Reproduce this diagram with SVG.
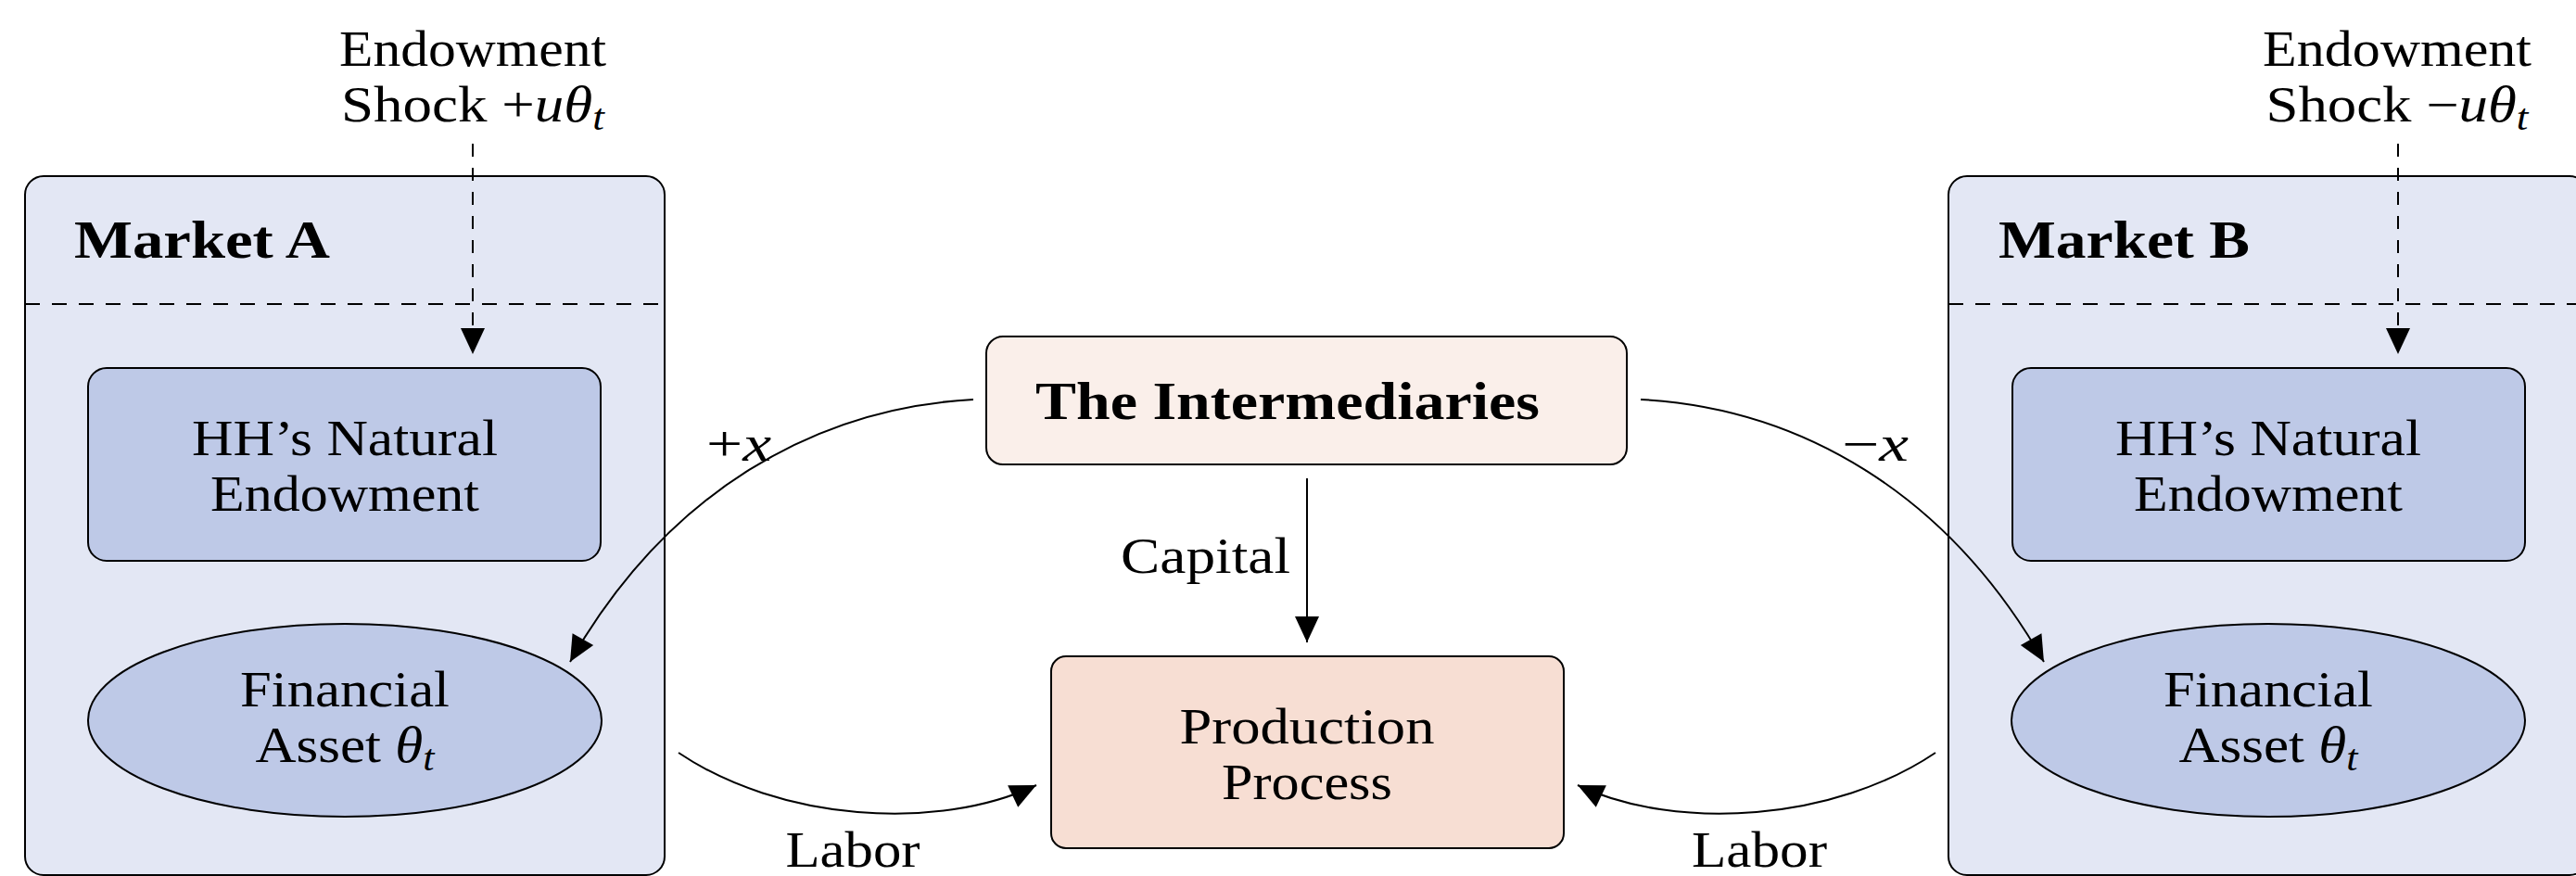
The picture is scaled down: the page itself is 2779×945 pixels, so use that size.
<svg xmlns="http://www.w3.org/2000/svg" width="2779" height="945" viewBox="0 0 2779 945">
<style>
  text { font-family: "Liberation Serif", "DejaVu Serif", serif; font-size: 54px; fill: #000; }
  .b { font-weight: bold; font-size: 58px; }
  .it { font-style: italic; }
  .sub { font-style: italic; font-size: 39px; }
  .mid { text-anchor: middle; }
  .market { fill: #E3E7F4; stroke: #000; stroke-width: 2; }
  .inner { fill: #BEC9E7; stroke: #000; stroke-width: 2; }
  .interm { fill: #FAEFEA; stroke: #000; stroke-width: 2; }
  .prod { fill: #F7DED3; stroke: #000; stroke-width: 2; }
  .sep { stroke: #000; stroke-width: 2; stroke-dasharray: 16 13; fill: none; }
  .conn { stroke: #000; stroke-width: 2; fill: none; marker-end: url(#arr); }
  .dash { stroke-dasharray: 14 12; }
</style>
<defs>
  <marker id="arr" markerUnits="userSpaceOnUse" viewBox="0 0 28 26" markerWidth="28" markerHeight="26" refX="28" refY="13" orient="auto" overflow="visible">
    <path d="M0,0 L28,13 L0,26 Z" fill="#000"/>
  </marker>
</defs>
<rect width="2779" height="945" fill="#fff"/>

<g id="market-a">
  <rect class="market" x="27" y="190" width="690" height="754" rx="20"/>
  <line class="sep" x1="27" y1="328" x2="717" y2="328"/>
  <text class="b" x="80" y="278" textLength="276" lengthAdjust="spacingAndGlyphs">Market A</text>
</g>
<g id="market-b">
  <rect class="market" x="2102" y="190" width="690" height="754" rx="20"/>
  <line class="sep" x1="2102" y1="328" x2="2792" y2="328"/>
  <text class="b" x="2156" y="278" textLength="271" lengthAdjust="spacingAndGlyphs">Market B</text>
</g>

<g id="shock-a">
  <text class="mid"><tspan x="510" y="71" textLength="288" lengthAdjust="spacingAndGlyphs">Endowment</tspan><tspan x="510" y="131" textLength="284" lengthAdjust="spacingAndGlyphs">Shock +<tspan class="it">uθ</tspan><tspan class="sub" dy="9">t</tspan></tspan></text>
</g>
<g id="shock-b">
  <text class="mid"><tspan x="2586" y="71" textLength="290" lengthAdjust="spacingAndGlyphs">Endowment</tspan><tspan x="2586" y="131" textLength="283" lengthAdjust="spacingAndGlyphs">Shock −<tspan class="it">uθ</tspan><tspan class="sub" dy="9">t</tspan></tspan></text>
</g>

<g id="hh-a">
  <rect class="inner" x="95" y="397" width="553" height="208" rx="20"/>
  <text class="mid"><tspan x="372" y="491" textLength="330" lengthAdjust="spacingAndGlyphs">HH’s Natural</tspan><tspan x="372" y="551" textLength="290" lengthAdjust="spacingAndGlyphs">Endowment</tspan></text>
</g>
<g id="asset-a">
  <ellipse class="inner" cx="372" cy="777" rx="277" ry="104"/>
  <text class="mid"><tspan x="372" y="762" textLength="226" lengthAdjust="spacingAndGlyphs">Financial</tspan><tspan x="372" y="822" textLength="193" lengthAdjust="spacingAndGlyphs">Asset <tspan class="it">θ</tspan><tspan class="sub" dy="9">t</tspan></tspan></text>
</g>
<g id="hh-b">
  <rect class="inner" x="2171" y="397" width="553" height="208" rx="20"/>
  <text class="mid"><tspan x="2447" y="491" textLength="330" lengthAdjust="spacingAndGlyphs">HH’s Natural</tspan><tspan x="2447" y="551" textLength="290" lengthAdjust="spacingAndGlyphs">Endowment</tspan></text>
</g>
<g id="asset-b">
  <ellipse class="inner" cx="2447" cy="777" rx="277" ry="104"/>
  <text class="mid"><tspan x="2447" y="762" textLength="226" lengthAdjust="spacingAndGlyphs">Financial</tspan><tspan x="2447" y="822" textLength="193" lengthAdjust="spacingAndGlyphs">Asset <tspan class="it">θ</tspan><tspan class="sub" dy="9">t</tspan></tspan></text>
</g>

<g id="intermediaries">
  <rect class="interm" x="1064" y="363" width="691" height="138" rx="18"/>
  <text class="b" x="1117" y="452" textLength="544" lengthAdjust="spacingAndGlyphs">The Intermediaries</text>
</g>
<g id="production">
  <rect class="prod" x="1134" y="708" width="553" height="207" rx="16"/>
  <text class="mid"><tspan x="1410" y="802" textLength="275" lengthAdjust="spacingAndGlyphs">Production</tspan><tspan x="1410" y="862" textLength="184" lengthAdjust="spacingAndGlyphs">Process</tspan></text>
</g>

<g id="connectors">
  <line class="conn dash" x1="510" y1="155" x2="510" y2="382"/>
  <line class="conn dash" x1="2587" y1="155" x2="2587" y2="382"/>
  <path class="conn" d="M1050,431 C880,440 720,530 615,714"/>
  <path class="conn" d="M1770,431 C1940,440 2100,530 2205,714"/>
  <line class="conn" x1="1410" y1="516" x2="1410" y2="693"/>
  <path class="conn" d="M732,812 C840,885 1010,898 1118,847"/>
  <path class="conn" d="M2088,812 C1980,885 1810,898 1702,847"/>
  <text x="797" y="497" class="mid" textLength="70" lengthAdjust="spacingAndGlyphs">+<tspan class="it">x</tspan></text>
  <text x="2023" y="497" class="mid" textLength="72" lengthAdjust="spacingAndGlyphs">−<tspan class="it">x</tspan></text>
  <text x="1392" y="618" text-anchor="end" textLength="183" lengthAdjust="spacingAndGlyphs">Capital</text>
  <text x="920" y="935" class="mid" textLength="145" lengthAdjust="spacingAndGlyphs">Labor</text>
  <text x="1898" y="935" class="mid" textLength="146" lengthAdjust="spacingAndGlyphs">Labor</text>
</g>
</svg>
